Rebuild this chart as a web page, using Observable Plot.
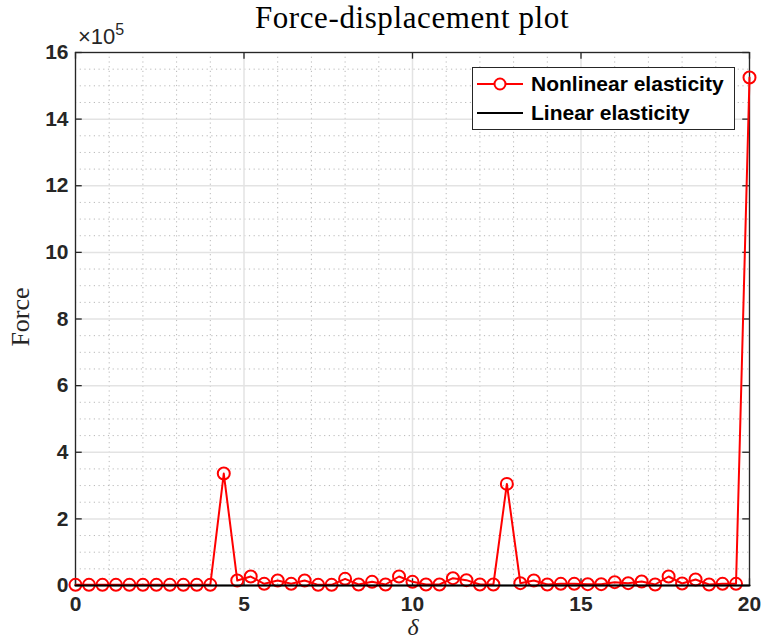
<!DOCTYPE html>
<html>
<head>
<meta charset="utf-8">
<script src="https://cdn.jsdelivr.net/npm/d3@7"></script>
<script src="https://cdn.jsdelivr.net/npm/@observablehq/plot@0.6"></script>
<style>
  body { margin: 0; background: #fff; }
  #wrap { position: relative; width: 763px; height: 643px; overflow: hidden; }
  #title { position: absolute; left: 0; width: 824px; top: 0px; text-align: center;
    font-family: "Liberation Serif", serif; font-size: 31px; letter-spacing: 0.6px; color: #000; }
  #exp { position: absolute; left: 78px; top: 22px; font-family: "Liberation Sans", sans-serif;
    font-size: 22px; color: #262626; }
  #exp sup { font-size: 16px; position: relative; top: -1px; }
  #ylab { position: absolute; left: 21px; top: 317px; transform: translate(-50%,-50%) rotate(-90deg);
    font-family: "Liberation Serif", serif; font-size: 26px; color: #262626; }
  #xlab { position: absolute; left: 413px; top: 627px; transform: translate(-50%,-50%);
    font-family: "Liberation Serif", serif; font-style: italic; font-size: 24px; line-height: 26px; color: #262626; }
  #legend { position: absolute; left: 472px; top: 67px; width: 261px; height: 61px; background: #fff;
    border: 1px solid #262626; font-family: "Liberation Sans", sans-serif; font-weight: bold; font-size: 21px; }
  .row { position: absolute; left: 4px; height: 26px; display: flex; align-items: center; }
  .row span { margin-left: 6px; }
</style>
</head>
<body>
<div id="wrap">
  <div id="chart"></div>
  <div id="title">Force-displacement plot</div>
  <div id="exp">×10<sup>5</sup></div>
  <div id="ylab">Force</div>
  <div id="xlab">δ</div>
  <div id="legend"></div>
</div>
<script>
const delta = [0,0.4,0.8,1.2,1.6,2.0,2.4,2.8,3.2,3.6,4.0,4.4,4.8,5.2,5.6,6.0,6.4,6.8,7.2,7.6,8.0,8.4,8.8,9.2,9.6,10.0,
  10.4,10.8,11.2,11.6,12.0,12.4,12.8,13.2,13.6,14.0,14.4,14.8,15.2,15.6,16.0,16.4,16.8,17.2,17.6,18.0,18.4,18.8,19.2,19.6,20.0];
const forceNonlinear = [2000,2000,2000,2000,2000,2000,2000,2000,2000,2000,2000,336000,15000,27000,5000,15000,5000,15000,2000,2000,20000,
  3000,11000,3000,27000,11000,3000,3000,22000,16000,3000,3000,305000,7000,15000,3000,5000,5000,4000,4000,10000,
  7000,12000,3000,27000,6000,18000,3000,5000,5000,1525000];
const linearDelta = [0, 20];
const forceLinear = [0, 0];
const xMajor = [0,5,10,15,20];
const xMinor = [1,2,3,4,6,7,8,9,11,12,13,14,16,17,18,19];
const yMajor = [0,2e5,4e5,6e5,8e5,10e5,12e5,14e5,16e5];
const yMinor = [0.5e5,1e5,1.5e5,2.5e5,3e5,3.5e5,4.5e5,5e5,5.5e5,6.5e5,7e5,7.5e5,8.5e5,9e5,9.5e5,10.5e5,11e5,11.5e5,
  12.5e5,13e5,13.5e5,14.5e5,15e5,15.5e5];

const nl = delta.map((d,i) => ({x: d, y: forceNonlinear[i]}));
const lin = linearDelta.map((d,i) => ({x: d, y: forceLinear[i]}));
const axisColor = "#262626";

const chart = Plot.plot({
  width: 763, height: 643,
  marginLeft: 75, marginRight: 14, marginTop: 52, marginBottom: 58,
  x: {domain: [0, 20]},
  y: {domain: [0, 16e5]},
  style: {fontFamily: "Liberation Sans, sans-serif", fontWeight: "bold", fontSize: "21px", color: axisColor},
  marks: [
    Plot.ruleX(xMinor, {stroke: "#b8b8b8", strokeDasharray: "1.2,3.5", strokeWidth: 1}),
    Plot.ruleY(yMinor, {stroke: "#b8b8b8", strokeDasharray: "1.2,3.5", strokeWidth: 1}),
    Plot.ruleX(xMajor, {stroke: "#e3e3e3", strokeWidth: 1.5}),
    Plot.ruleY(yMajor, {stroke: "#e3e3e3", strokeWidth: 1.5}),
    Plot.frame({stroke: axisColor, strokeWidth: 1.3}),
    Plot.ruleX(xMajor, {y1: 0, y2: 0.2e5, stroke: axisColor, strokeWidth: 1.3}),
    Plot.ruleX(xMajor, {y1: 15.8e5, y2: 16e5, stroke: axisColor, strokeWidth: 1.3}),
    Plot.ruleY(yMajor, {x1: 0, x2: 0.2, stroke: axisColor, strokeWidth: 1.3}),
    Plot.ruleY(yMajor, {x1: 19.8, x2: 20, stroke: axisColor, strokeWidth: 1.3}),
    Plot.axisX(xMajor, {tickSize: 0, tickPadding: 11, label: null, fontSize: 21, fontWeight: "bold"}),
    Plot.axisY(yMajor, {tickSize: 0, tickPadding: 7, label: null, tickFormat: d => d / 1e5, fontSize: 21, fontWeight: "bold"}),
    Plot.line(nl, {x: "x", y: "y", stroke: "red", strokeWidth: 2}),
    Plot.dot(nl, {x: "x", y: "y", r: 6, stroke: "red", strokeWidth: 2, fill: "none"}),
    Plot.line(lin, {x: "x", y: "y", stroke: "black", strokeWidth: 2.2})
  ]
});
document.getElementById("chart").appendChild(chart);

const legend = document.getElementById("legend");
legend.innerHTML = `
  <div class="row" style="top:3px">
    <svg width="48" height="26"><line x1="0" y1="13" x2="46" y2="13" stroke="red" stroke-width="2"/>
      <circle cx="23" cy="13" r="5.5" fill="#fff" stroke="red" stroke-width="2"/></svg>
    <span>Nonlinear elasticity</span></div>
  <div class="row" style="top:32px">
    <svg width="48" height="26"><line x1="0" y1="13" x2="46" y2="13" stroke="black" stroke-width="2"/></svg>
    <span>Linear elasticity</span></div>`;
</script>
</body>
</html>
